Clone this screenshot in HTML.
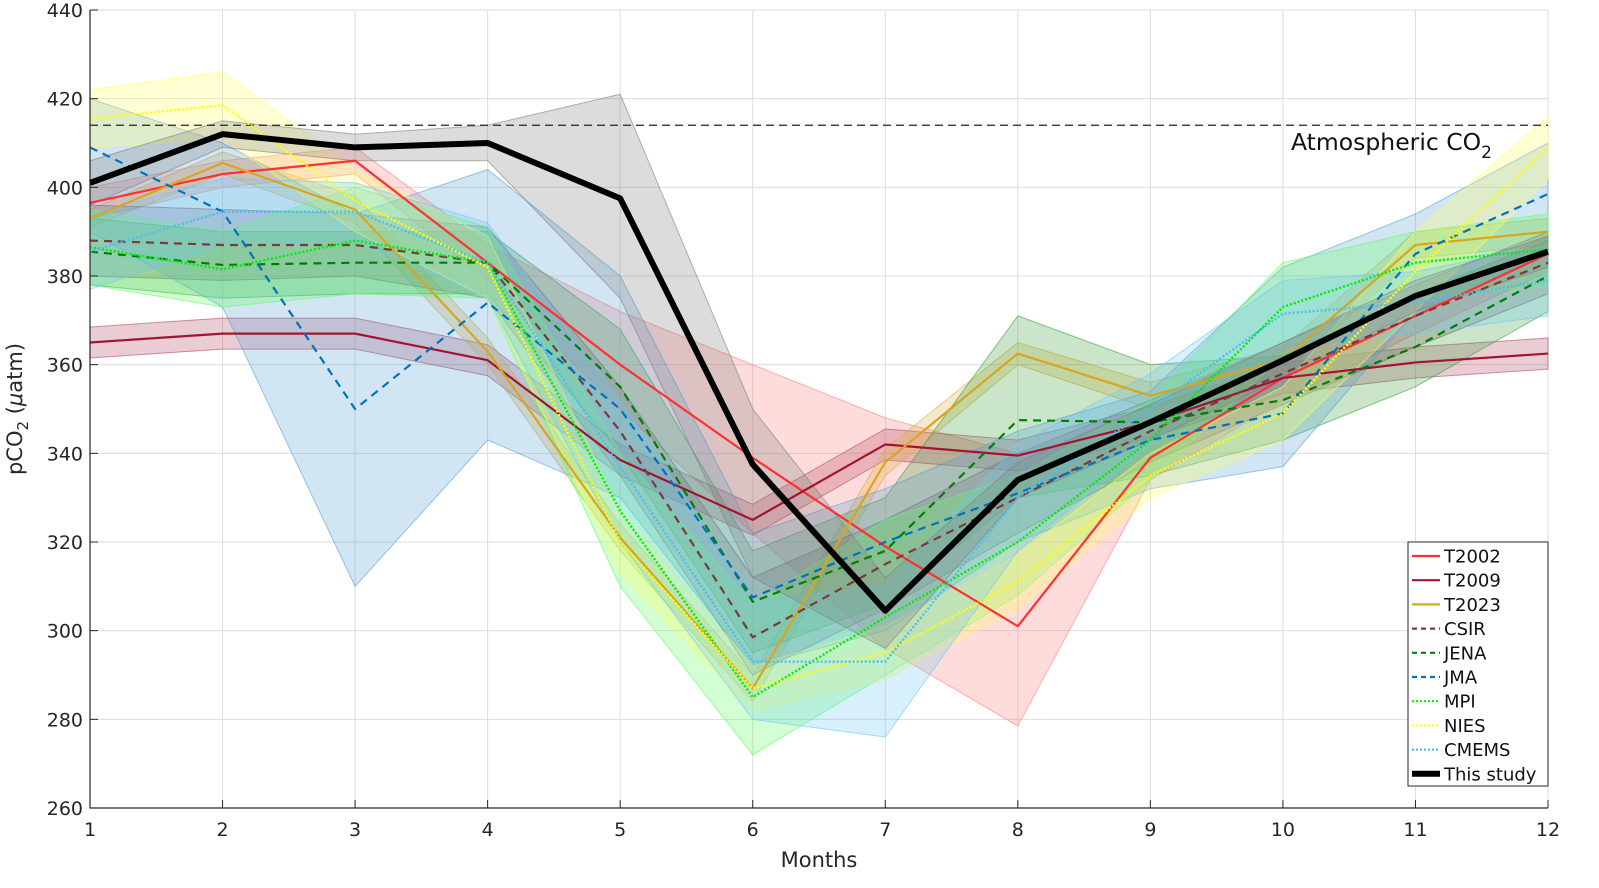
<!DOCTYPE html>
<html><head><meta charset="utf-8"><style>
body{margin:0;background:#fff}
svg{display:block;font-family:"DejaVu Sans","Liberation Sans",sans-serif}
</style></head><body>
<svg id="chart" width="1599" height="888" viewBox="0 0 1599 888" xmlns="http://www.w3.org/2000/svg">
<g id="grid"></g>
<g id="bands"></g>
<g id="lines"></g>
<g id="axes"></g>
<g id="legend"></g>
</svg>
<script>
const months=[1,2,3,4,5,6,7,8,9,10,11,12];
const yTicks=[260,280,300,320,340,360,380,400,420,440];
const atmCO2=414;
const seriesNames=["T2002","T2009","T2023","CSIR","JENA","JMA","MPI","NIES","CMEMS","This study"];
const t2002=[396.5,403,406,383,360,339,319,301,339,357,371,385];
const t2002Lo=[393,400,403,379,350,322,296,278.5,334,352,367,381];
const t2002Hi=[400,406,409,387,372,360,348,340,344,362,375,389];
const t2009=[365,367,367,361,338.5,325,342,339.5,347,357,360.5,362.5];
const t2009Lo=[361.5,363.5,363.5,357.5,335,321.5,338.5,336,343.5,353.5,357,359];
const t2009Hi=[368.5,370.5,370.5,364.5,342,328.5,345.5,343,350.5,360.5,364,366];
const t2023=[393,405.5,395,363,321,287,338,362.5,353,361,387,390];
const t2023Lo=[391,403,392,360,318,284,335,360,350,358,384,387];
const t2023Hi=[395,408,398,366,324,290,341,365,356,364,390,393];
const csir=[388,387,387,383,345,298.5,315,330,345,358,371,383];
const csirLo=[380,379,380,375,335,290,305,322,338,351,364,376];
const csirHi=[396,395,394,391,355,312,325,340,352,365,378,390];
const jena=[385.5,382.5,383,383,355,306.5,318,347.5,347,352,364,380];
const jenaLo=[378,375,376,376,340,295,306,330,335,343,355,372];
const jenaHi=[393,390,390,390,368,318,330,371,360,362,376,388];
const jma=[409,394.5,350,374,350,307.5,320,331,343,349,385,398.5];
const jmaLo=[390,373,310,343,330,292,300,320,332,337,372,385];
const jmaHi=[420,410,394,404,380,322,332,345,354,382,394,410];
const mpi=[386.5,381.5,388,383,327,285,303,320,343,373,383,386];
const mpiLo=[378,373,376,375,310,272,290,308,334,362,375,378];
const mpiHi=[395,390,400,391,340,306,325,335,352,383,390,394];
const nies=[415.5,418.5,397,382,320,287,295,311,335,349,381,409];
const niesLo=[409,411,390,375,313,282,289,305,330,343,372,402];
const niesHi=[422,426,404,389,327,292,301,317,340,355,390,416];
const cmems=[385.5,394.5,394.5,383,337,293,293,330,350,371.5,374,379];
const cmemsLo=[377,387,388,375,320,280,276,318,342,364,367,371];
const cmemsHi=[394,402,401,392,352,307,310,342,358,379,381,387];
const study=[401,412,409,410,397.5,337.5,304.5,334,347,361,375.5,385.5];
const studyLo=[396,409,406,406,375,312,296,330,343,357,372,382];
const studyHi=[406,415,412,414,421,350,312,338,351,365,379,389];

const X0=90,X1=1548,Y0=808,Y1=10;
const xs=m=>X0+(m-1)/11*(X1-X0);
const ys=v=>Y0-(v-260)/180*(Y0-Y1);
const NS="http://www.w3.org/2000/svg";
function mk(tag,parent,attrs){const e=document.createElementNS(NS,tag);for(const k in attrs)e.setAttribute(k,attrs[k]);parent.appendChild(e);return e;}
const grid=document.getElementById('grid'),bands=document.getElementById('bands'),lines=document.getElementById('lines'),axes=document.getElementById('axes'),legend=document.getElementById('legend');

months.forEach(m=>{const l=mk('line',grid,{x1:xs(m),x2:xs(m),y1:Y1,y2:Y0,stroke:'#dcdcdc','stroke-width':1});

});
yTicks.forEach(v=>{const l=mk('line',grid,{x1:X0,x2:X1,y1:ys(v),y2:ys(v),stroke:'#dcdcdc','stroke-width':1});

});

const defs=[
 {mean:t2002,lo:t2002Lo,hi:t2002Hi,c:'#ff3030',f:'#ff8080',dash:'',w:2.2},
 {mean:t2009,lo:t2009Lo,hi:t2009Hi,c:'#a2142f',f:'#b04a62',dash:'',w:2.2},
 {mean:t2023,lo:t2023Lo,hi:t2023Hi,c:'#d9a520',f:'#d9b040',dash:'',w:2.2},
 {mean:csir,lo:csirLo,hi:csirHi,c:'#7a3a3a',f:'#8a4a6a',dash:'8 6',w:2.2},
 {mean:jena,lo:jenaLo,hi:jenaHi,c:'#008000',f:'#40a040',dash:'8 6',w:2.2},
 {mean:jma,lo:jmaLo,hi:jmaHi,c:'#0072bd',f:'#5aa0d5',dash:'8 6',w:2.2},
 {mean:mpi,lo:mpiLo,hi:mpiHi,c:'#00ee00',f:'#60ff60',dash:'2 2',w:2.4},
 {mean:nies,lo:niesLo,hi:niesHi,c:'#ffff00',f:'#ffff60',dash:'2 2',w:2.4},
 {mean:cmems,lo:cmemsLo,hi:cmemsHi,c:'#4dbeee',f:'#70c8f0',dash:'2 2',w:2.4},
 {mean:study,lo:studyLo,hi:studyHi,c:'#000000',f:'#808080',dash:'',w:6}
];
defs.forEach((d,i)=>{
 const pts=months.map((m,j)=>xs(m)+','+ys(d.hi[j])).concat(months.slice().reverse().map((m,j)=>xs(m)+','+ys(d.lo[11-j])));
 const p=mk('polygon',bands,{points:pts.join(' '),fill:d.f,'fill-opacity':0.28,stroke:d.f,'stroke-opacity':0.6,'stroke-width':1});
 
 
});
const atm=mk('line',lines,{x1:X0,x2:X1,y1:ys(atmCO2),y2:ys(atmCO2),stroke:'#222','stroke-width':1.3,'stroke-dasharray':'8 5'});


const at=mk('text',lines,{x:1291,y:150,'font-size':23.5,fill:'#111'});


at.innerHTML='Atmospheric CO<tspan dy="8" font-size="17">2</tspan>';
defs.forEach((d,i)=>{
 const a={points:months.map((m,j)=>xs(m)+','+ys(d.mean[j])).join(' '),fill:'none',stroke:d.c,'stroke-width':d.w,'stroke-linejoin':'round'};
 if(d.dash)a['stroke-dasharray']=d.dash;
 const p=mk('polyline',lines,a);
 
 
});
const ax=mk('path',axes,{d:`M${X0},${Y1}V${Y0}H${X1}`,fill:'none',stroke:'#262626','stroke-width':1.2});


months.forEach(m=>{
 const tk=mk('line',axes,{x1:xs(m),x2:xs(m),y1:Y0,y2:Y0-8,stroke:'#262626','stroke-width':1});
 
 
 const t=mk('text',axes,{x:xs(m),y:836,'font-size':19,fill:'#262626','text-anchor':'middle'});
 
 
 t.textContent=m;
});
yTicks.forEach(v=>{
 const tk=mk('line',axes,{x1:X0,x2:X0+8,y1:ys(v),y2:ys(v),stroke:'#262626','stroke-width':1});
 
 
 const t=mk('text',axes,{x:83,y:ys(v)+7,'font-size':19,fill:'#262626','text-anchor':'end'});
 
 
 t.textContent=v;
});
const xl=mk('text',axes,{x:819,y:867,'font-size':21,fill:'#262626','text-anchor':'middle'});


xl.textContent='Months';
const yl=mk('text',axes,{x:0,y:0,'font-size':21,fill:'#262626','text-anchor':'middle',transform:'translate(22,409) rotate(-90)'});


yl.innerHTML='pCO<tspan dy="6" font-size="15">2</tspan><tspan dy="-6"> (</tspan><tspan font-style="italic">μ</tspan>atm)';
const lb=mk('rect',legend,{x:1408,y:542,width:140,height:244,fill:'#fff',stroke:'#262626','stroke-width':1});


defs.forEach((d,i)=>{
 const y=556+i*24.2;
 const a={x1:1412,x2:1440,y1:y,y2:y,stroke:d.c,'stroke-width':i==9?6:2.2};
 if(d.dash)a['stroke-dasharray']=d.dash=='8 6'?'5 4':'2 2';
 const l=mk('line',legend,a);
 
 
 const t=mk('text',legend,{x:1444,y:y+6.5,'font-size':18,fill:'#111'});
 
 
 t.textContent=seriesNames[i];
});
</script>
</body></html>
